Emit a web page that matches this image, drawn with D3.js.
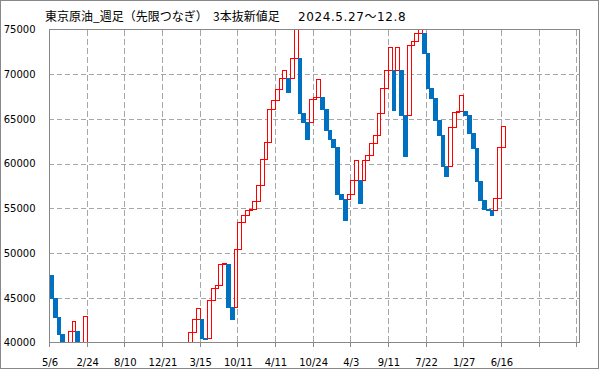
<!DOCTYPE html>
<html><head><meta charset="utf-8">
<script src="https://cdn.jsdelivr.net/npm/d3@7"></script>
<style>body{margin:0;background:#fff} svg{display:block}</style>
</head><body><svg id="c" width="599" height="369"></svg>
<script>
const titleMain = "東京原油_週足（先限つなぎ）";
const titleKind = "3本抜新値足";
const titlePeriod = "2024.5.27～12.8";
const xTickLabels = ["5/6","2/24","8/10","12/21","3/15","10/11","4/11","10/24","4/3","9/11","7/22","1/27","6/16"];
const yTicks = [40000,45000,50000,55000,60000,65000,70000,75000];
const N = null;
// bar start and end values (null = bar entirely below 40000, not visible)
const barOpen = [
 47500,45000,42900,41000,N,39500,41340,41340,N,39500,
 N,N,N,N,N,N,N,N,N,N, N,N,N,N,N,N,N,N,N,N, N,N,N,N,N,N,N,
 39500,41230,42650,42650,40480,40480,44780,46120,46380,48760,48760,43950,43950,
 50490,53500,54300,54770,54920,55860,57570,60560,62420,66150,
 67160,68390,69630,69630,69630,71760,71760,65620,64660,64660,
 67270,67450,67450,66150,63730,62800,61860,56570,56080,56080,
 56640,58210,58210,58210,60450,61010,62350,63170,65710,68510,
 70440,70440,70440,70440,65410,65410,73240,73720,74620,74620,
 72400,68510,67390,64900,63250,59730,59730,64150,65800,65930,
 65930,65480,63430,61790,58060,55970,54920,54770,54770,56190,
 61900];
const barClose = [
 45000,42900,41000,39500,N,41340,42350,39500,N,42990,
 N,N,N,N,N,N,N,N,N,N, N,N,N,N,N,N,N,N,N,N, N,N,N,N,N,N,N,
 41230,42650,43880,40480,40380,44780,46120,46380,48760,48840,43950,42600,50490,
 53500,54300,54770,54920,55860,57570,60560,62420,66150,67160,
 68390,69630,70480,68020,71760,76500,65620,64660,62800,67270,
 67450,69510,66150,63730,62800,61860,56570,56080,53730,56640,
 58210,60450,55590,60450,61010,62350,63170,65710,68510,70440,
 72990,65970,72990,65410,60820,73240,73720,74620,75600,72400,
 68510,67390,64900,63250,59730,58610,64150,65800,65930,67720,
 65480,63430,61790,58060,55970,54920,54770,54290,56190,61900,
 64250];
const slots = 141, labelEvery = 10;

const svg = d3.select("#c");
const L = 49, R = 580, T = 29.5, B = 342.5;
const x = d3.scaleLinear().domain([0, slots]).range([L, R]);
const y = d3.scaleLinear().domain([40000, 75000]).range([B, T]);

svg.append("rect").attr("x",0.5).attr("y",0.5).attr("width",598).attr("height",368)
  .attr("fill","#fff").attr("stroke","#888");

svg.append("defs").append("clipPath").attr("id","clip").append("rect")
  .attr("x",L).attr("y",T).attr("width",R-L).attr("height",B-T);

const grid = svg.append("g").attr("shape-rendering","crispEdges");
grid.selectAll("line.h").data(yTicks.filter(v=>v>40000 && v<75000)).join("line")
  .attr("x1",L).attr("x2",R).attr("y1",d=>Math.round(y(d))+0.5).attr("y2",d=>Math.round(y(d))+0.5)
  .attr("stroke","#a6a6a6").attr("stroke-dasharray","5,3");
const vIdx = d3.range(labelEvery, slots, labelEvery);
grid.selectAll("line.v").data(vIdx).join("line")
  .attr("x1",d=>Math.round(x(d))+0.5).attr("x2",d=>Math.round(x(d))+0.5).attr("y1",T).attr("y2",B)
  .attr("stroke","#a6a6a6").attr("stroke-dasharray","6,3");

const bars = svg.append("g").attr("clip-path","url(#clip)").attr("shape-rendering","crispEdges");
const data = barOpen.map((o,i)=>({i, o, c: barClose[i]})).filter(d=>d.o!=null && d.c!=null);
data.forEach(d=>{
  const x0 = Math.round(x(d.i)), x1 = Math.round(x(d.i+1));
  const hi = Math.max(d.o,d.c), lo = Math.min(d.o,d.c);
  const yt = Math.round(y(hi)), yb = Math.round(y(lo));
  if (d.c > d.o) {
    bars.append("rect").attr("x",x0+0.5).attr("y",yt+0.5).attr("width",x1-x0).attr("height",Math.max(1,yb-yt))
      .attr("fill","#fff").attr("stroke","#ff0000").attr("stroke-width",1);
  } else {
    bars.append("rect").attr("x",x0).attr("y",yt).attr("width",x1-x0+1).attr("height",Math.max(1,yb-yt+1))
      .attr("fill","#0070c0");
  }
});

const ax = svg.append("g").attr("shape-rendering","crispEdges").attr("stroke","#888").attr("fill","none");
ax.append("line").attr("x1",L+0.5).attr("x2",L+0.5).attr("y1",T).attr("y2",B+4);
ax.append("line").attr("x1",L).attr("x2",R).attr("y1",B).attr("y2",B);
ax.append("line").attr("x1",L).attr("x2",R).attr("y1",T).attr("y2",T);
ax.append("line").attr("x1",R-0.5).attr("x2",R-0.5).attr("y1",T).attr("y2",B);
ax.selectAll("line.t").data(vIdx).join("line")
  .attr("x1",d=>Math.round(x(d))+0.5).attr("x2",d=>Math.round(x(d))+0.5).attr("y1",B).attr("y2",B+4);

svg.append("g").selectAll("text").data(yTicks).join("text")
  .attr("x",35.5).attr("y",d=>y(d)+3.8).attr("text-anchor","end")
  .attr("font-family","DejaVu Sans").attr("font-size",10).attr("fill","#000").text(d=>d);
svg.append("g").selectAll("text").data(xTickLabels).join("text")
  .attr("x",(d,k)=>x(k*labelEvery)+1).attr("y",365.5).attr("text-anchor","middle")
  .attr("font-family","DejaVu Sans").attr("font-size",10).attr("fill","#000").text(d=>d);

const tf = "'Noto Sans CJK JP', sans-serif";
svg.append("text").attr("x",45).attr("y",21).attr("font-family",tf).attr("font-size",12).text(titleMain);
svg.append("text").attr("x",213).attr("y",21).attr("font-family",tf).attr("font-size",12).text(titleKind);
svg.append("text").attr("x",298).attr("y",21).attr("font-family","'DejaVu Sans', 'Noto Sans CJK JP', sans-serif")
  .attr("font-size",12).attr("letter-spacing",0.6).text(titlePeriod);
</script></body></html>
